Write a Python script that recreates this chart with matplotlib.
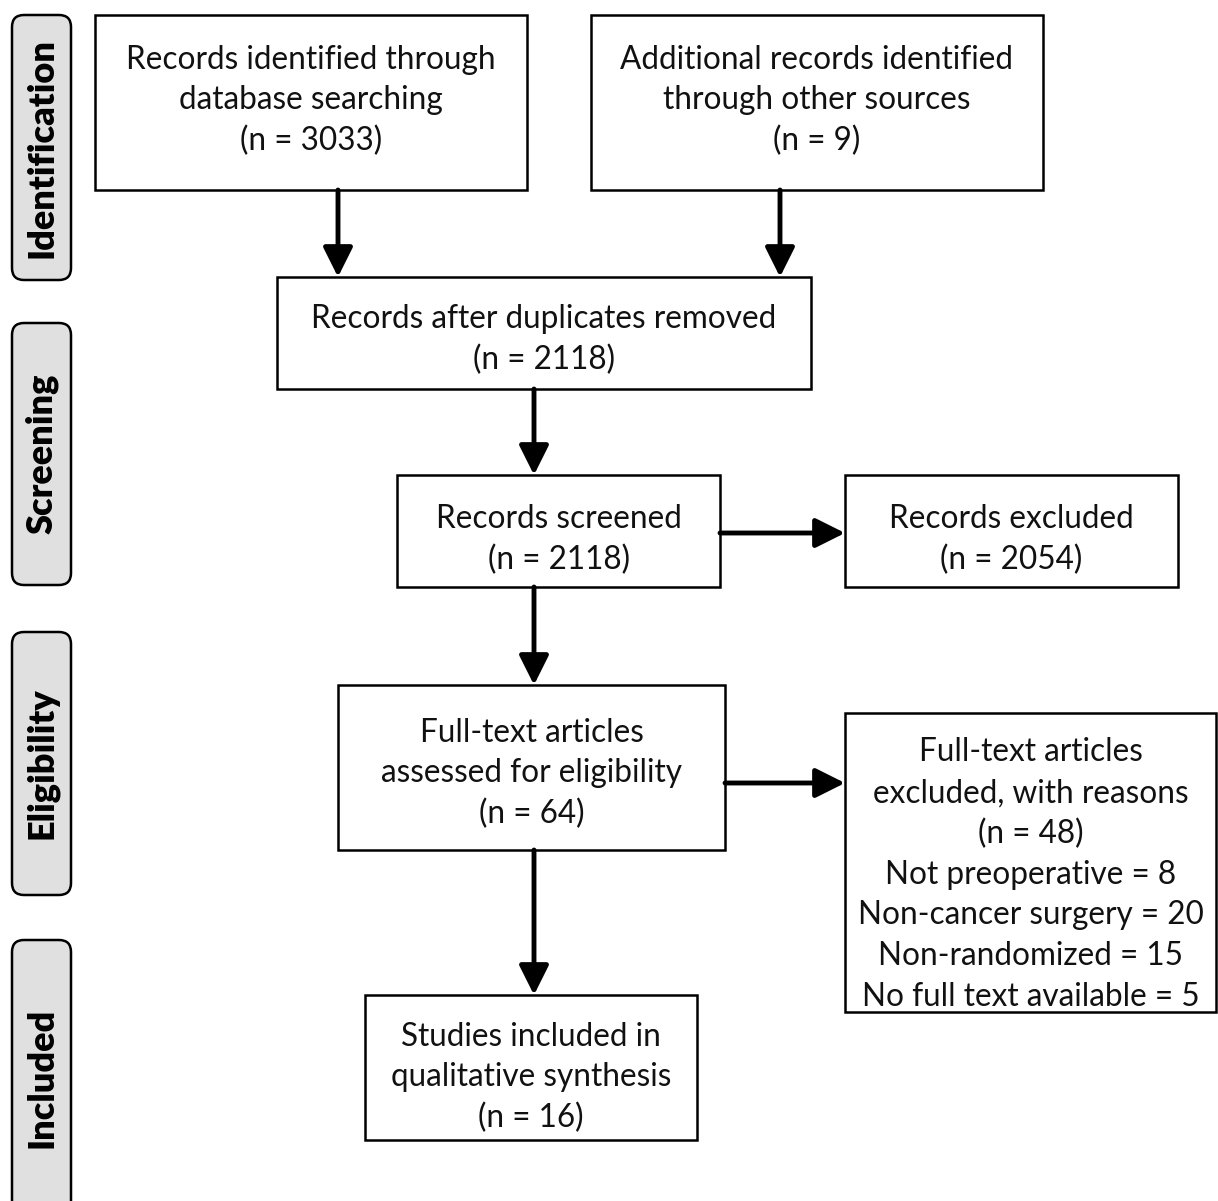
import matplotlib
matplotlib.use("Agg")
import matplotlib.pyplot as plt
from matplotlib.patches import Rectangle, FancyBboxPatch, FancyArrowPatch

# stage labels down the left side
stages = ["Identification", "Screening", "Eligibility", "Included"]

# box texts
box_texts = [
    "Records identified through\ndatabase searching\n(n = 3033)",
    "Additional records identified\nthrough other sources\n(n = 9)",
    "Records after duplicates removed\n(n = 2118)",
    "Records screened\n(n = 2118)",
    "Records excluded\n(n = 2054)",
    "Full-text articles\nassessed for eligibility\n(n = 64)",
    "Full-text articles\nexcluded, with reasons\n(n = 48)\nNot preoperative = 8\n"
    "Non-cancer surgery = 20\nNon-randomized = 15\nNo full text available = 5",
    "Studies included in\nqualitative synthesis\n(n = 16)",
]

W, H = 1218, 1201
FONT = ["Lato", "DejaVu Sans"]

fig = plt.figure(figsize=(W / 100, H / 100), dpi=100)
ax = fig.add_axes([0, 0, 1, 1])
ax.set_xlim(0, W)
ax.set_ylim(H, 0)
ax.axis("off")

# box geometry in pixels: x0, y0, x1, y1, text offset from centre
boxes = [
    (95, 15, 527, 190, -2),
    (591, 15, 1043, 190, -2),
    (277, 277, 811, 389, 7),
    (397, 475, 720, 587, 9),
    (845, 475, 1178, 587, 9),
    (338, 685, 725, 850, 6),
    (845, 713, 1216, 1012, 12),
    (365, 995, 697, 1140, 10),
]

for (x0, y0, x1, y1, dy), txt in zip(boxes, box_texts):
    ax.add_patch(Rectangle((x0, y0), x1 - x0, y1 - y0, fill=False,
                           edgecolor="black", linewidth=1.8))
    ax.text((x0 + x1) / 2, (y0 + y1) / 2 + dy, txt, ha="center", va="center",
            fontsize=22.7, family=FONT, linespacing=1.44, color="#111111")

stage_spans = [(15, 280), (323, 585), (632, 895), (940, 1215)]
for name, (y0, y1) in zip(stages, stage_spans):
    ax.add_patch(FancyBboxPatch((12, y0), 59, y1 - y0,
                                boxstyle="round,pad=0,rounding_size=12",
                                facecolor="#e0e0e0", edgecolor="black",
                                linewidth=1.8, clip_on=False))
    ax.text(42, (y0 + y1) / 2, name, rotation=90, ha="center", va="center",
            fontsize=26, fontweight="heavy", family=FONT)

arrows = [
    ((338, 190), (338, 277)),
    ((780, 190), (780, 277)),
    ((534, 389), (534, 475)),
    ((720, 533), (845, 533)),
    ((534, 587), (534, 685)),
    ((725, 783), (845, 783)),
    ((534, 850), (534, 995)),
]
for start, end in arrows:
    ax.add_patch(FancyArrowPatch(start, end, arrowstyle="-|>,head_length=0.9,head_width=0.45",
                                 mutation_scale=20, color="black", linewidth=3.5,
                                 shrinkA=0, shrinkB=0))

fig.savefig("out.png", dpi=100, facecolor="white")
